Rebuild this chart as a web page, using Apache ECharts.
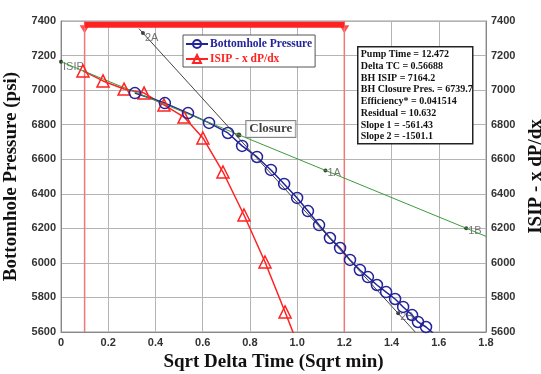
<!DOCTYPE html>
<html>
<head>
<meta charset="utf-8">
<script src="https://cdn.jsdelivr.net/npm/echarts@6/dist/echarts.min.js"></script>
<style>
  html, body { margin: 0; padding: 0; background: #fff; }
  #main { width: 541px; height: 374px; }
</style>
</head>
<body>
<div id="main"></div>
<script>
// data
const xTicks = [0, 0.2, 0.4, 0.6, 0.8, 1.0, 1.2, 1.4, 1.6, 1.8];
const yTicks = [5600, 5800, 6000, 6200, 6400, 6600, 6800, 7000, 7200, 7400];

const bhX = [0.313, 0.440, 0.538, 0.627, 0.707, 0.767, 0.830, 0.889, 0.945, 1.000, 1.046, 1.093,
  1.139, 1.182, 1.224, 1.266, 1.300, 1.338, 1.377, 1.415, 1.449, 1.487, 1.512, 1.546, 1.576];
const bhP = [6983, 6925, 6867, 6810, 6752, 6677, 6613, 6538, 6457, 6376, 6300, 6219,
  6144, 6086, 6017, 5959, 5918, 5872, 5831, 5791, 5745, 5698, 5658, 5629, 5594];

const isipX = [0.093, 0.178, 0.267, 0.352, 0.436, 0.521, 0.601, 0.686, 0.775, 0.864, 0.949, 1.034];
const isipP = [7111, 7053, 7006, 6983, 6914, 6844, 6723, 6526, 6277, 6005, 5716, 5420];

const slope1Line = [[0, 7164.2], [1.8, 6153.6]];
const slope2Line = [[0.33, 7356], [1.5, 5600]];
const pickNames = ['ISIP', '1A', '1B', '2A', '2B'];
const pickPts = [[0, 7164.2], [1.12, 6535], [1.716, 6201], [0.347, 7330], [1.428, 5708]];
const closurePt = [0.753, 6739.7];
const windowX = [0.1, 1.2];

const infoLines = [
  'Pump Time = 12.472',
  'Delta TC = 0.56688',
  'BH ISIP = 7164.2',
  'BH Closure Pres. = 6739.7',
  'Efficiency* = 0.041514',
  'Residual = 10.632',
  'Slope 1 = -561.43',
  'Slope 2 = -1501.1'
];

const zip = (xs, ys) => xs.map((x, i) => [x, ys[i]]);
const serif = '"Liberation Serif", "DejaVu Serif", serif';
const sans = '"Liberation Sans", Arial, sans-serif';
const blue = '#23239a';
const red = '#ff2222';

const labelOffsets = { ISIP: [-2, 5], '1A': [-2, 3], '1B': [-2, 3], '2A': [-2, 5], '2B': [-2, 4] };

const chart = echarts.init(document.getElementById('main'));

const tickLabel = { fontFamily: sans, fontWeight: 'bold', fontSize: 11, color: '#333' };
const titleStyle = { fontFamily: serif, fontWeight: 'bold', fontSize: 19, color: '#111' };

chart.setOption({
  animation: false,
  backgroundColor: '#fff',
  grid: { left: 61, right: 55, top: 21, bottom: 42, outerBoundsMode: 'none', containLabel: false,
    show: true, borderColor: '#999', borderWidth: 1 },
  legend: {
    left: 183, top: 35, orient: 'vertical', z: 20,
    backgroundColor: '#fff', borderColor: '#555', borderWidth: 1,
    padding: [3, 3, 2, 2], itemGap: 3, itemWidth: 22, itemHeight: 10,
    data: [
      { name: 'Bottomhole Pressure', textStyle: { color: blue } },
      { name: 'ISIP - x dP/dx', textStyle: { color: red } }
    ],
    textStyle: { fontFamily: serif, fontWeight: 'bold', fontSize: 11.5, padding: [0, 0, 0, -3] }
  },
  xAxis: {
    type: 'value', min: 0, max: 1.8, interval: 0.2,
    name: 'Sqrt Delta Time (Sqrt min)', nameLocation: 'middle', nameGap: 20,
    nameTextStyle: titleStyle,
    axisLine: { show: true, lineStyle: { color: '#888' } },
    axisTick: { show: false },
    axisLabel: Object.assign({ margin: 5, formatter: v => v === 0 ? '0' : v.toFixed(1) }, tickLabel),
    splitLine: { lineStyle: { color: '#b4b4b4', width: 1 } }
  },
  yAxis: [{
    type: 'value', min: yTicks[0], max: yTicks[yTicks.length - 1], interval: 200,
    name: 'Bottomhole Pressure (psi)', nameLocation: 'middle', nameGap: 34,
    nameTextStyle: titleStyle,
    axisLine: { show: true, lineStyle: { color: '#888' } },
    axisTick: { show: false },
    axisLabel: Object.assign({ margin: 5, formatter: v => String(v) }, tickLabel),
    splitLine: { lineStyle: { color: '#b4b4b4', width: 1 } }
  }, {
    type: 'value', min: yTicks[0], max: yTicks[yTicks.length - 1], interval: 200, position: 'right',
    name: 'ISIP - x dP/dx', nameLocation: 'middle', nameGap: 36, nameRotate: 90,
    nameTextStyle: titleStyle,
    axisLine: { show: true, lineStyle: { color: '#888' } },
    axisTick: { show: false },
    axisLabel: Object.assign({ margin: 5, formatter: v => String(v) }, tickLabel),
    splitLine: { show: false }
  }],
  series: [
    // analysis window verticals
    ...windowX.map(x => ({
      type: 'line', silent: true, symbol: 'none',
      data: [[x, yTicks[0]], [x, yTicks[yTicks.length - 1]]],
      lineStyle: { color: '#f07878', width: 1.5 }
    })),
    {
      type: 'line', silent: true, symbol: 'none',
      data: windowX.map(x => [x, 7378]),
      lineStyle: { color: red, width: 6 }
    },
    {
      type: 'scatter', silent: true, symbol: 'triangle', symbolRotate: 180, symbolSize: [10, 8],
      data: windowX.map(x => [x, 7352]),
      itemStyle: { color: red }
    },
    {
      name: 'ISIP - x dP/dx', type: 'line', data: zip(isipX, isipP),
      symbol: 'triangle', symbolSize: 12,
      lineStyle: { color: red, width: 1.5 },
      itemStyle: { color: 'rgba(255,255,255,0)', borderColor: red, borderWidth: 1.5 }
    },
    {
      name: 'Bottomhole Pressure', type: 'line', data: zip(bhX, bhP),
      symbol: 'circle', symbolSize: 11,
      lineStyle: { color: blue, width: 1.5 },
      itemStyle: { color: 'rgba(255,255,255,0)', borderColor: blue, borderWidth: 1.5 }
    },
    {
      type: 'line', silent: true, symbol: 'none', data: slope1Line,
      lineStyle: { color: '#3c9c3c', width: 1 }
    },
    {
      type: 'line', silent: true, symbol: 'none', data: slope2Line,
      lineStyle: { color: '#444', width: 1 }
    },
    {
      type: 'scatter', silent: true, symbolSize: 4, itemStyle: { color: '#111' },
      data: pickNames.map((n, i) => ({
        name: n, value: pickPts[i],
        label: { show: true, formatter: n, position: 'right', distance: 2, offset: labelOffsets[n],
          fontFamily: sans, fontSize: 11, color: '#555' }
      }))
    },
    {
      type: 'scatter', silent: true, symbolSize: 5, itemStyle: { color: '#111' },
      data: [{
        value: closurePt,
        label: { show: true, formatter: 'Closure', position: 'right', distance: 5, offset: [0, -6],
          fontFamily: serif, fontWeight: 'bold', fontSize: 13, color: '#111',
          backgroundColor: '#fff', borderColor: '#666', borderWidth: 1, padding: [2, 3, 1, 3] }
      }]
    }
  ],
  graphic: [{
    type: 'group', left: 357, top: 46, z: 100,
    children: [
      { type: 'rect', z: 100, shape: { x: 0, y: 0, width: 115, height: 97 },
        style: { fill: '#fff', stroke: '#222', lineWidth: 1.5 } },
      ...infoLines.map((t, i) => ({
        type: 'text', z: 101, x: 3, y: 8 + i * 11.7,
        style: { text: t, font: 'bold 10px ' + serif, fill: '#111', verticalAlign: 'middle' }
      }))
    ]
  }]
});
</script>
</body>
</html>
